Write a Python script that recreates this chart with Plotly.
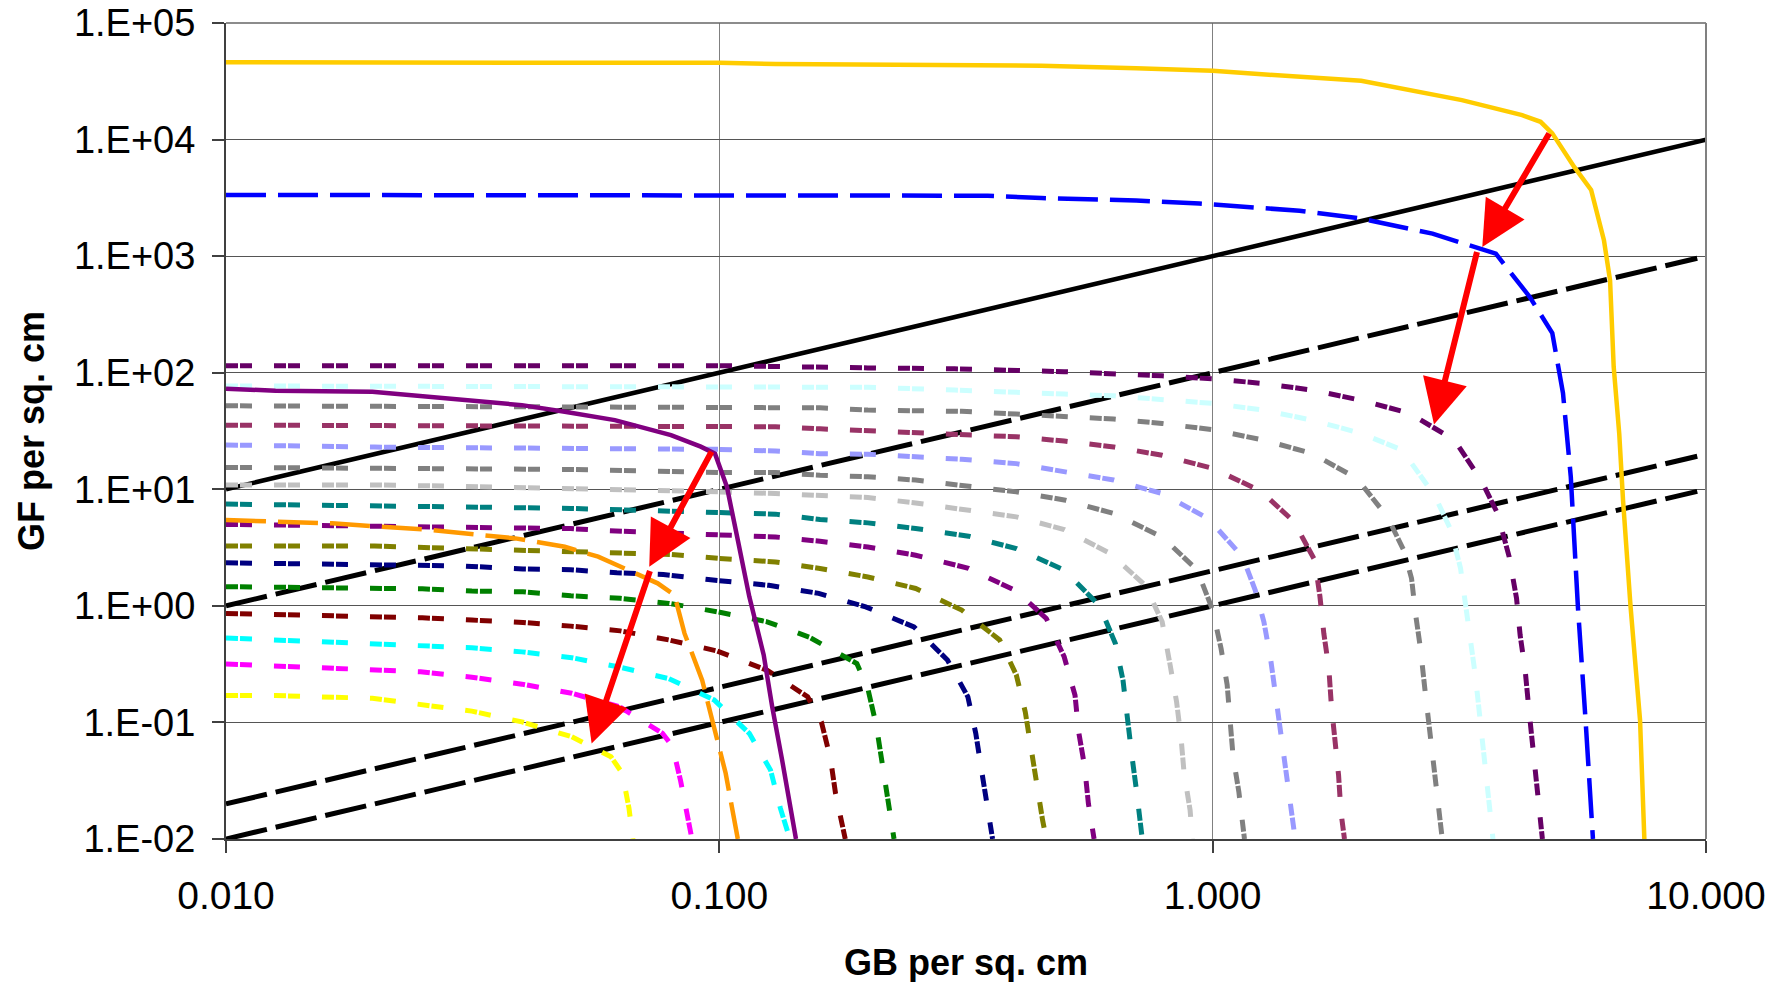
import math
import plotly.graph_objects as go

# ---------------- data ----------------
x_ticks = [0.01, 0.1, 1, 10]
x_ticktext = ["0.010", "0.100", "1.000", "10.000"]
y_ticks = [0.01, 0.1, 1, 10, 100, 1000, 10000, 100000]
y_ticktext = ["1.E-02", "1.E-01", "1.E+00", "1.E+01", "1.E+02", "1.E+03", "1.E+04", "1.E+05"]

# reference lines (GF = k * GB)
gb_ref_solid = [0.01, 10]
gf_ref_solid = [10, 10000]
gb_ref_100 = [0.01, 9.6]
gf_ref_100 = [1, 960]
gb_ref_2 = [0.01, 9.6]
gf_ref_2 = [0.02, 19.2]
gb_ref_1 = [0.01, 9.6]
gf_ref_1 = [0.01, 9.6]

# gold solid curve
gb_gold = [0.01, 0.05, 0.1, 0.13, 0.3, 0.45, 0.7, 1.0, 1.3, 2.0, 3.2, 4.24, 4.62, 4.88,
           5.41, 5.85, 6.21, 6.39, 6.5, 6.67, 6.79, 7.03, 7.35, 7.5]
gf_gold = [4.6e4, 4.6e4, 4.55e4, 4.45e4, 4.4e4, 4.3e4, 4.1e4, 3.9e4, 3.6e4, 3.2e4, 2.18e4,
           1.62e4, 1.42e4, 1.13e4, 5.8e3, 3.7e3, 1.37e3, 622, 112, 30, 8, 1.0, 0.105, 0.01]

# blue long-dash curve
gb_blue = [0.01, 0.2, 0.35, 0.45, 0.7, 0.94, 1.5, 2.0, 2.79, 3.75, 4.39, 4.88, 5.13, 5.32,
           5.5, 5.7, 5.9]
gf_blue = [3.35e3, 3.35e3, 3.3e3, 3.15e3, 3.0e3, 2.83e3, 2.45e3, 2.1e3, 1.56e3, 1.05e3,
           448, 219, 67, 12.8, 0.98, 0.105, 0.01]

# family of short-dash curves
gb_c115 = [0.01, 0.05, 0.1, 0.2, 0.3, 0.5, 0.63, 0.79, 1.0, 1.26, 1.59, 2.0, 2.51, 3.09, 3.5,
           3.78, 3.99, 4.13, 4.2, 4.3, 4.37, 4.45, 4.53, 4.61, 4.66]
gf_c115 = [115, 115, 115, 110, 108, 102, 98.6, 94, 88.5, 81, 71, 58, 44.8, 26.4, 12, 6.2,
           2.64, 1.16, 0.56, 0.28, 0.136, 0.068, 0.033, 0.0166, 0.01]

gb_c77 = [0.01, 0.05, 0.2, 0.3, 0.4, 0.5, 0.63, 0.79, 1.0, 1.26, 1.59, 2.0, 2.42, 2.82,
          3.04, 3.18, 3.26, 3.35, 3.41, 3.47, 3.53, 3.59, 3.7]
gf_c77 = [77, 76, 75, 71, 68.6, 65.6, 63.4, 59, 54.5, 48, 39.2, 30.2, 21.7, 8.8, 4.47, 2.1,
          1.0, 0.49, 0.247, 0.124, 0.06, 0.03, 0.01]

gb_c52 = [0.01, 0.1, 0.16, 0.2, 0.31, 0.4, 0.5, 0.63, 0.79, 1.0, 1.26, 1.59, 1.96, 2.26,
          2.44, 2.53, 2.58, 2.64, 2.69, 2.74, 2.79, 2.84, 2.92]
gf_c52 = [52, 50, 50, 47.8, 46.6, 44.2, 42.4, 40, 36.7, 32.4, 26.6, 20.3, 12.4, 5.8, 3.0,
          1.72, 0.83, 0.42, 0.2, 0.101, 0.049, 0.0247, 0.01]

gb_c36 = [0.01, 0.1, 0.13, 0.16, 0.2, 0.25, 0.31, 0.4, 0.5, 0.63, 0.79, 1.0, 1.25, 1.46,
          1.61, 1.65, 1.68, 1.72, 1.74, 1.77, 1.8, 1.82, 1.85]
gf_c36 = [35.5, 34.8, 34.4, 33, 31.7, 30.5, 28.9, 28.2, 25.9, 23.1, 19.6, 15.1, 9.7, 5.3,
          2.47, 1.2, 0.58, 0.29, 0.141, 0.071, 0.035, 0.017, 0.01]

gb_c24 = [0.01, 0.02, 0.1, 0.13, 0.16, 0.2, 0.25, 0.31, 0.4, 0.5, 0.63, 0.79, 0.98, 1.15,
          1.22, 1.27, 1.31, 1.34, 1.37, 1.4, 1.43, 1.47]
gf_c24 = [24, 23, 22, 21.3, 20.2, 20, 19, 18.1, 16.6, 14.3, 12, 9.2, 5.6, 2.63, 1.36, 0.73,
          0.355, 0.177, 0.086, 0.043, 0.021, 0.01]

gb_c15 = [0.01, 0.02, 0.05, 0.1, 0.13, 0.16, 0.2, 0.25, 0.31, 0.4, 0.5, 0.63, 0.79, 0.93,
          1.0, 1.04, 1.07, 1.085, 1.1, 1.13, 1.16]
gf_c15 = [15.4, 15, 14.8, 13.9, 13.9, 13.2, 12.8, 12, 10.7, 9.5, 8.1, 6.2, 3.9, 2.03, 0.92,
          0.43, 0.21, 0.105, 0.051, 0.0254, 0.01]

gb_c11 = [0.01, 0.02, 0.03, 0.05, 0.1, 0.13, 0.16, 0.2, 0.25, 0.31, 0.4, 0.5, 0.62, 0.73,
          0.79, 0.82, 0.845, 0.863, 0.875, 0.9, 0.91]
gf_c11 = [10.9, 10.9, 10.6, 10.2, 9.5, 9.2, 8.9, 8.5, 7.64, 6.7, 5.8, 4.52, 2.81, 1.5, 0.73,
          0.31, 0.15, 0.073, 0.037, 0.0177, 0.01]

gb_c7 = [0.01, 0.02, 0.03, 0.05, 0.1, 0.13, 0.16, 0.2, 0.25, 0.32, 0.4, 0.5, 0.59, 0.635,
         0.658, 0.67, 0.685, 0.7, 0.72]
gf_c7 = [7.46, 7.3, 7.06, 6.85, 6.3, 6.12, 5.5, 5.15, 4.61, 3.96, 3.1, 2.03, 1.0, 0.475,
         0.23, 0.112, 0.054, 0.027, 0.01]

gb_c5 = [0.01, 0.02, 0.03, 0.05, 0.06, 0.08, 0.1, 0.13, 0.16, 0.2, 0.25, 0.32, 0.4, 0.46,
         0.5, 0.526, 0.535, 0.55, 0.56, 0.575]
gf_c5 = [5.0, 4.85, 4.75, 4.6, 4.4, 4.2, 4.05, 3.9, 3.58, 3.2, 2.72, 2.1, 1.34, 0.78, 0.366,
         0.171, 0.083, 0.042, 0.02, 0.01]

gb_c3 = [0.01, 0.02, 0.03, 0.04, 0.05, 0.06, 0.08, 0.1, 0.13, 0.16, 0.2, 0.25, 0.31, 0.37,
         0.4, 0.417, 0.428, 0.438, 0.452, 0.46]
gf_c3 = [3.26, 3.26, 3.1, 3.0, 2.97, 2.85, 2.76, 2.55, 2.38, 2.09, 1.77, 1.41, 0.92, 0.51,
         0.255, 0.123, 0.06, 0.03, 0.0146, 0.01]

gb_c2 = [0.01, 0.02, 0.03, 0.04, 0.05, 0.062, 0.077, 0.095, 0.126, 0.159, 0.198, 0.248,
         0.29, 0.319, 0.331, 0.34, 0.349, 0.358]
gf_c2 = [2.34, 2.24, 2.2, 2.07, 2.04, 1.92, 1.86, 1.68, 1.5, 1.28, 0.98, 0.66, 0.343, 0.166,
         0.0805, 0.039, 0.0189, 0.01]

gb_c1 = [0.01, 0.02, 0.025, 0.0315, 0.04, 0.05, 0.063, 0.079, 0.099, 0.125, 0.152, 0.19,
         0.2, 0.208, 0.213, 0.219, 0.226]
gf_c1 = [1.46, 1.43, 1.4, 1.34, 1.32, 1.22, 1.16, 1.05, 0.89, 0.73, 0.54, 0.32, 0.195,
         0.095, 0.0476, 0.023, 0.01]

gb_c08 = [0.01, 0.02, 0.025, 0.0315, 0.04, 0.05, 0.063, 0.079, 0.099, 0.125, 0.151, 0.161,
          0.168, 0.172, 0.18]
gf_c08 = [0.86, 0.82, 0.79, 0.755, 0.72, 0.67, 0.61, 0.51, 0.41, 0.28, 0.166, 0.101, 0.049,
          0.0246, 0.01]

gb_c05 = [0.01, 0.0198, 0.0248, 0.0315, 0.0398, 0.0502, 0.0633, 0.0789, 0.0976, 0.115,
          0.127, 0.133, 0.139]
gf_c05 = [0.53, 0.475, 0.452, 0.437, 0.403, 0.359, 0.296, 0.238, 0.156, 0.0806, 0.039,
          0.0183, 0.01]

gb_c03 = [0.01, 0.0198, 0.0248, 0.0315, 0.0398, 0.0502, 0.0628, 0.0767, 0.0804, 0.0834,
          0.0865, 0.088]
gf_c03 = [0.317, 0.281, 0.272, 0.244, 0.213, 0.178, 0.136, 0.0806, 0.0619, 0.032, 0.0155,
          0.01]

gb_c02 = [0.01, 0.0126, 0.0198, 0.0248, 0.0315, 0.0398, 0.0502, 0.0603, 0.0636, 0.0656,
          0.0668]
gf_c02 = [0.17, 0.17, 0.161, 0.141, 0.125, 0.101, 0.0754, 0.0508, 0.0366, 0.0183, 0.01]

# purple solid curve
gb_purple = [0.01, 0.0126, 0.0198, 0.025, 0.032, 0.0398, 0.0486, 0.0614, 0.0798, 0.0917,
             0.098, 0.1036, 0.109, 0.115, 0.123, 0.128, 0.134, 0.143]
gf_purple = [73, 70, 68.6, 63, 58.2, 52.7, 46.2, 39.2, 29.2, 23.2, 20.2, 10.5, 3.67, 1.2,
             0.38, 0.136, 0.048, 0.01]

# orange long-dash curve
gb_orange = [0.01, 0.0164, 0.0262, 0.0386, 0.0486, 0.0568, 0.0653, 0.075, 0.0811, 0.085,
             0.0923, 0.0976, 0.103, 0.109]
gf_orange = [5.44, 5.1, 4.47, 3.79, 3.21, 2.64, 2.03, 1.56, 1.24, 0.58, 0.23, 0.092,
             0.0366, 0.01]

# red arrows (tail -> head)
arrow_from_gb = [4.83, 3.44, 0.0968, 0.0725]
arrow_from_gf = [1.16e4, 1.12e3, 21.7, 2.05]
arrow_to_gb = [3.52, 2.81, 0.0721, 0.0551]
arrow_to_gf = [1.2e3, 36, 2.16, 0.066]

# ---------------- figure ----------------
fig = go.Figure()

def add(xs, ys, color, width, dash="solid"):
    fig.add_trace(go.Scatter(x=xs, y=ys, mode="lines",
                             line=dict(color=color, width=width, dash=dash),
                             hoverinfo="skip", showlegend=False))

BLACK_DASH = "42px,9px"
add(gb_ref_solid, gf_ref_solid, "#000000", 4.5)
add(gb_ref_100, gf_ref_100, "#000000", 5, BLACK_DASH)
add(gb_ref_2, gf_ref_2, "#000000", 5, BLACK_DASH)
add(gb_ref_1, gf_ref_1, "#000000", 5, BLACK_DASH)

FAM_DASH = "12px,2px,12px,22px"
family = [
    (gb_c115, gf_c115, "#660066"),
    (gb_c77, gf_c77, "#CCFFFF"),
    (gb_c52, gf_c52, "#808080"),
    (gb_c36, gf_c36, "#993366"),
    (gb_c24, gf_c24, "#9999FF"),
    (gb_c15, gf_c15, "#808080"),
    (gb_c11, gf_c11, "#C0C0C0"),
    (gb_c7, gf_c7, "#008080"),
    (gb_c5, gf_c5, "#800080"),
    (gb_c3, gf_c3, "#808000"),
    (gb_c2, gf_c2, "#000080"),
    (gb_c1, gf_c1, "#008000"),
    (gb_c08, gf_c08, "#800000"),
    (gb_c05, gf_c05, "#00FFFF"),
    (gb_c03, gf_c03, "#FF00FF"),
    (gb_c02, gf_c02, "#FFFF00"),
]
for xs, ys, col in family:
    add(xs, ys, col, 5, FAM_DASH)

add(gb_blue, gf_blue, "#0000FF", 4.5, "40px,12px")
add(gb_gold, gf_gold, "#FFCC00", 4.5)
add(gb_orange, gf_orange, "#FF9900", 4.5, "40px,12px")
add(gb_purple, gf_purple, "#800080", 4.5)

annotations = []
for fx, fy, tx, ty in zip(arrow_from_gb, arrow_from_gf, arrow_to_gb, arrow_to_gf):
    annotations.append(dict(
        x=math.log10(tx), y=math.log10(ty), ax=math.log10(fx), ay=math.log10(fy),
        xref="x", yref="y", axref="x", ayref="y", text="", showarrow=True,
        arrowhead=2, arrowsize=1.5, arrowwidth=6, arrowcolor="#FF0000"))

FONT = "Liberation Sans, Arial, sans-serif"
annotations.append(dict(text="<b>GB per sq. cm</b>", xref="paper", yref="paper",
                        x=0.5, y=-0.1514, xanchor="center", yanchor="middle",
                        showarrow=False, font=dict(family=FONT, size=36, color="#000000")))
annotations.append(dict(text="<b>GF per sq. cm</b>", xref="paper", yref="paper",
                        x=-0.1318, y=0.5, xanchor="center", yanchor="middle", textangle=-90,
                        showarrow=False, font=dict(family=FONT, size=36, color="#000000")))

fig.update_layout(
    width=1787, height=982,
    margin=dict(l=226, r=81, t=23, b=143, autoexpand=False),
    paper_bgcolor="#FFFFFF", plot_bgcolor="#FFFFFF",
    showlegend=False,
    annotations=annotations,
    shapes=[
        dict(type="line", xref="paper", yref="paper", x0=0, x1=1, y0=1, y1=1,
             line=dict(color="#666666", width=1.5)),
        dict(type="line", xref="paper", yref="paper", x0=1, x1=1, y0=0, y1=1,
             line=dict(color="#808080", width=2)),
    ],
)
fig.update_xaxes(type="log", range=[-2, 1], tickvals=x_ticks, ticktext=x_ticktext,
                 automargin=False, ticklabeloverflow="allow",
                 showgrid=True, gridcolor="#808080", gridwidth=1,
                 showline=True, linecolor="#404040", linewidth=2,
                 ticks="outside", ticklen=12, tickcolor="#404040", tickwidth=1.5,
                 ticklabelstandoff=9,
                 tickfont=dict(family=FONT, size=39, color="#000000"), zeroline=False)
fig.update_yaxes(type="log", range=[-2, 5], tickvals=y_ticks, ticktext=y_ticktext,
                 automargin=False, ticklabeloverflow="allow",
                 showgrid=True, gridcolor="#555555", gridwidth=1,
                 showline=True, linecolor="#404040", linewidth=2,
                 ticks="outside", ticklen=12, tickcolor="#404040", tickwidth=1.5,
                 ticklabelstandoff=9,
                 tickfont=dict(family=FONT, size=38, color="#000000"), zeroline=False)

# remove the page's default 8px body margin so the figure fills the window exactly
fig.write_html("out.html", config={"displayModeBar": False},
               post_script="document.body.style.margin='0px';document.body.style.overflow='hidden';")
